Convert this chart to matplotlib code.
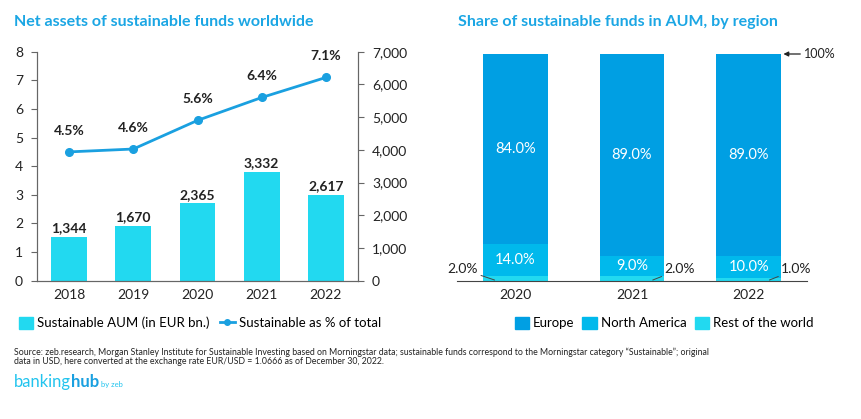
import numpy as np
import matplotlib.pyplot as plt
from matplotlib.patches import Patch
from matplotlib.lines import Line2D

plt.rcParams['font.family'] = ['Lato', 'DejaVu Sans']

# left chart data
years = ['2018', '2019', '2020', '2021', '2022']
aum = [1344, 1670, 2365, 3332, 2617]
share_pct = [4.5, 4.6, 5.6, 6.4, 7.1]

# right chart data
reg_years = ['2020', '2021', '2022']
europe = [84.0, 89.0, 89.0]
north_america = [14.0, 9.0, 10.0]
rest_world = [2.0, 2.0, 1.0]

c_bar = '#22d9f0'
c_line = '#1aa0e0'
c_eu = '#009fe3'
c_na = '#00b9ec'
c_rw = '#22d9f0'
c_title = '#1ba6e4'

W, H = 862, 419
fig = plt.figure(figsize=(W / 100, H / 100), dpi=100)

def box(x0, y0, x1, y1):
    return [x0 / W, 1 - y1 / H, (x1 - x0) / W, (y1 - y0) / H]

# ---- left chart
ax1 = fig.add_axes(box(37, 51.7, 358, 280.7))
ax2 = ax1.twinx()
x = np.arange(len(years))
ax2.bar(x, aum, width=0.56, color=c_bar, zorder=2)
for xi, v in zip(x, aum):
    ax2.text(xi, v + 80, f'{v:,}', ha='center', va='bottom', fontsize=10,
             fontweight='bold', color='#222222')
ax2.set_ylim(0, 7000)
ax2.set_yticks(range(0, 7001, 1000))
ax2.set_yticklabels([f'{v:,}' for v in range(0, 7001, 1000)])

ax1.set_zorder(ax2.get_zorder() + 1)
ax1.patch.set_visible(False)
ax1.plot(x, share_pct, color=c_line, lw=2, marker='o', ms=5.5, zorder=3)
for xi, v in zip(x, share_pct):
    ax1.annotate(f'{v}%', (xi, v), xytext=(0, 11), textcoords='offset points',
                 ha='center', va='bottom', fontsize=10, fontweight='bold',
                 color='#222222')
ax1.set_ylim(0, 8)
ax1.set_xlim(-0.5, 4.5)
ax1.set_xticks(x)
ax1.set_xticklabels(years)

for a in (ax1, ax2):
    a.spines['top'].set_visible(False)
    for s in ('left', 'right', 'bottom'):
        a.spines[s].set_color('#666666')
        a.spines[s].set_linewidth(0.8)
    a.tick_params(axis='y', colors='#666666', labelcolor='#222222',
                  labelsize=10, length=4, width=0.8, pad=6)
    a.tick_params(axis='x', length=0, labelsize=10, labelcolor='#222222', pad=6)

fig.text(14 / W, 1 - 22 / H, 'Net assets of sustainable funds worldwide',
         color=c_title, fontsize=11.5, fontweight='bold', va='center')

h1 = [Patch(color=c_bar),
      Line2D([], [], color=c_line, lw=2, marker='o', ms=4)]
fig.legend(h1, ['Sustainable AUM (in EUR bn.)', 'Sustainable as % of total'],
           loc='center left', bbox_to_anchor=(12 / W, 1 - 323 / H), ncol=2,
           frameon=False, fontsize=9.5, handlelength=1.1, handleheight=1.1,
           handletextpad=0.3, columnspacing=0.8, borderpad=0)

# ---- right chart
ax3 = fig.add_axes(box(457, 54, 807, 280.7))
xr = np.arange(len(reg_years))
bw = 0.556
ax3.bar(xr, rest_world, width=bw, color=c_rw)
ax3.bar(xr, north_america, width=bw, bottom=rest_world, color=c_na)
bot_eu = [a + b for a, b in zip(rest_world, north_america)]
ax3.bar(xr, europe, width=bw, bottom=bot_eu, color=c_eu)
for xi, b, v in zip(xr, rest_world, north_america):
    ax3.text(xi, b + v / 2, f'{v:.1f}%', ha='center', va='center',
             color='white', fontsize=10.5)
for xi, b, v in zip(xr, bot_eu, europe):
    ax3.text(xi, b + v / 2, f'{v:.1f}%', ha='center', va='center',
             color='white', fontsize=10.5)
# rest of world callouts
for i, v in enumerate(rest_world):
    if i == 0:
        ax3.annotate(f'{v:.1f}%', (xr[i] - bw / 2 + 0.1, 0.3),
                     xytext=(xr[i] - bw / 2 - 0.04, 5.0), ha='right', va='center',
                     fontsize=10, color='#222222',
                     arrowprops=dict(arrowstyle='-', color='#444444', lw=0.7,
                                     shrinkA=0, shrinkB=0))
    else:
        ax3.annotate(f'{v:.1f}%', (xr[i] + bw / 2 - 0.1, 0.3),
                     xytext=(xr[i] + bw / 2 + 0.0, 5.0), ha='left', va='center',
                     fontsize=10, color='#222222',
                     arrowprops=dict(arrowstyle='-', color='#444444', lw=0.7,
                                     shrinkA=0, shrinkB=0))
ax3.annotate('100%', (xr[-1] + bw / 2 + 0.02, 100), xytext=(xr[-1] + bw / 2 + 0.2, 100),
             ha='left', va='center', fontsize=9, color='#222222',
             arrowprops=dict(arrowstyle='-|>', color='#222222', lw=0.9,
                             mutation_scale=7, shrinkA=1, shrinkB=0))
ax3.set_ylim(0, 100)
ax3.set_xlim(-0.5, 2.5)
ax3.set_xticks(xr)
ax3.set_xticklabels(reg_years)
ax3.set_yticks([])
for s in ('left', 'right', 'top'):
    ax3.spines[s].set_visible(False)
ax3.spines['bottom'].set_color('#444444')
ax3.spines['bottom'].set_linewidth(0.8)
ax3.tick_params(axis='x', length=0, labelsize=10, labelcolor='#222222', pad=6)

fig.text(458 / W, 1 - 22 / H, 'Share of sustainable funds in AUM, by region',
         color=c_title, fontsize=11.5, fontweight='bold', va='center')

h2 = [Patch(color=c_eu), Patch(color=c_na), Patch(color=c_rw)]
fig.legend(h2, ['Europe', 'North America', 'Rest of the world'],
           loc='center left', bbox_to_anchor=(508 / W, 1 - 323 / H), ncol=3,
           frameon=False, fontsize=9.5, handlelength=1.1, handleheight=1.1,
           handletextpad=0.3, columnspacing=0.6, borderpad=0)

# ---- footer
fig.text(14 / W, 1 - 352 / H,
         'Source: zeb.research, Morgan Stanley Institute for Sustainable Investing based on '
         'Morningstar data; sustainable funds correspond to the Morningstar category '
         '\u201cSustainable\u201d; original', fontsize=6.3, color='#222222', va='center')
fig.text(14 / W, 1 - 362 / H,
         'data in USD, here converted at the exchange rate EUR/USD = 1.0666 as of '
         'December 30, 2022.', fontsize=6.3, color='#222222', va='center')

# logo: place pieces one after another
r = fig.canvas.get_renderer()
t1 = fig.text(14 / W, 1 - 387 / H, 'banking', fontsize=12, color='#22c4ee',
              va='baseline')
x_end = t1.get_window_extent(r).x1
t2 = fig.text(x_end / W, 1 - 387 / H, 'hub', fontsize=12, color='#1aa0e0',
              fontweight='bold', va='baseline')
x_end = t2.get_window_extent(r).x1
fig.text((x_end + 2) / W, 1 - 387 / H, 'by zeb', fontsize=5.5, color='#22c4ee',
         va='baseline')

fig.savefig('out.png', dpi=100)
